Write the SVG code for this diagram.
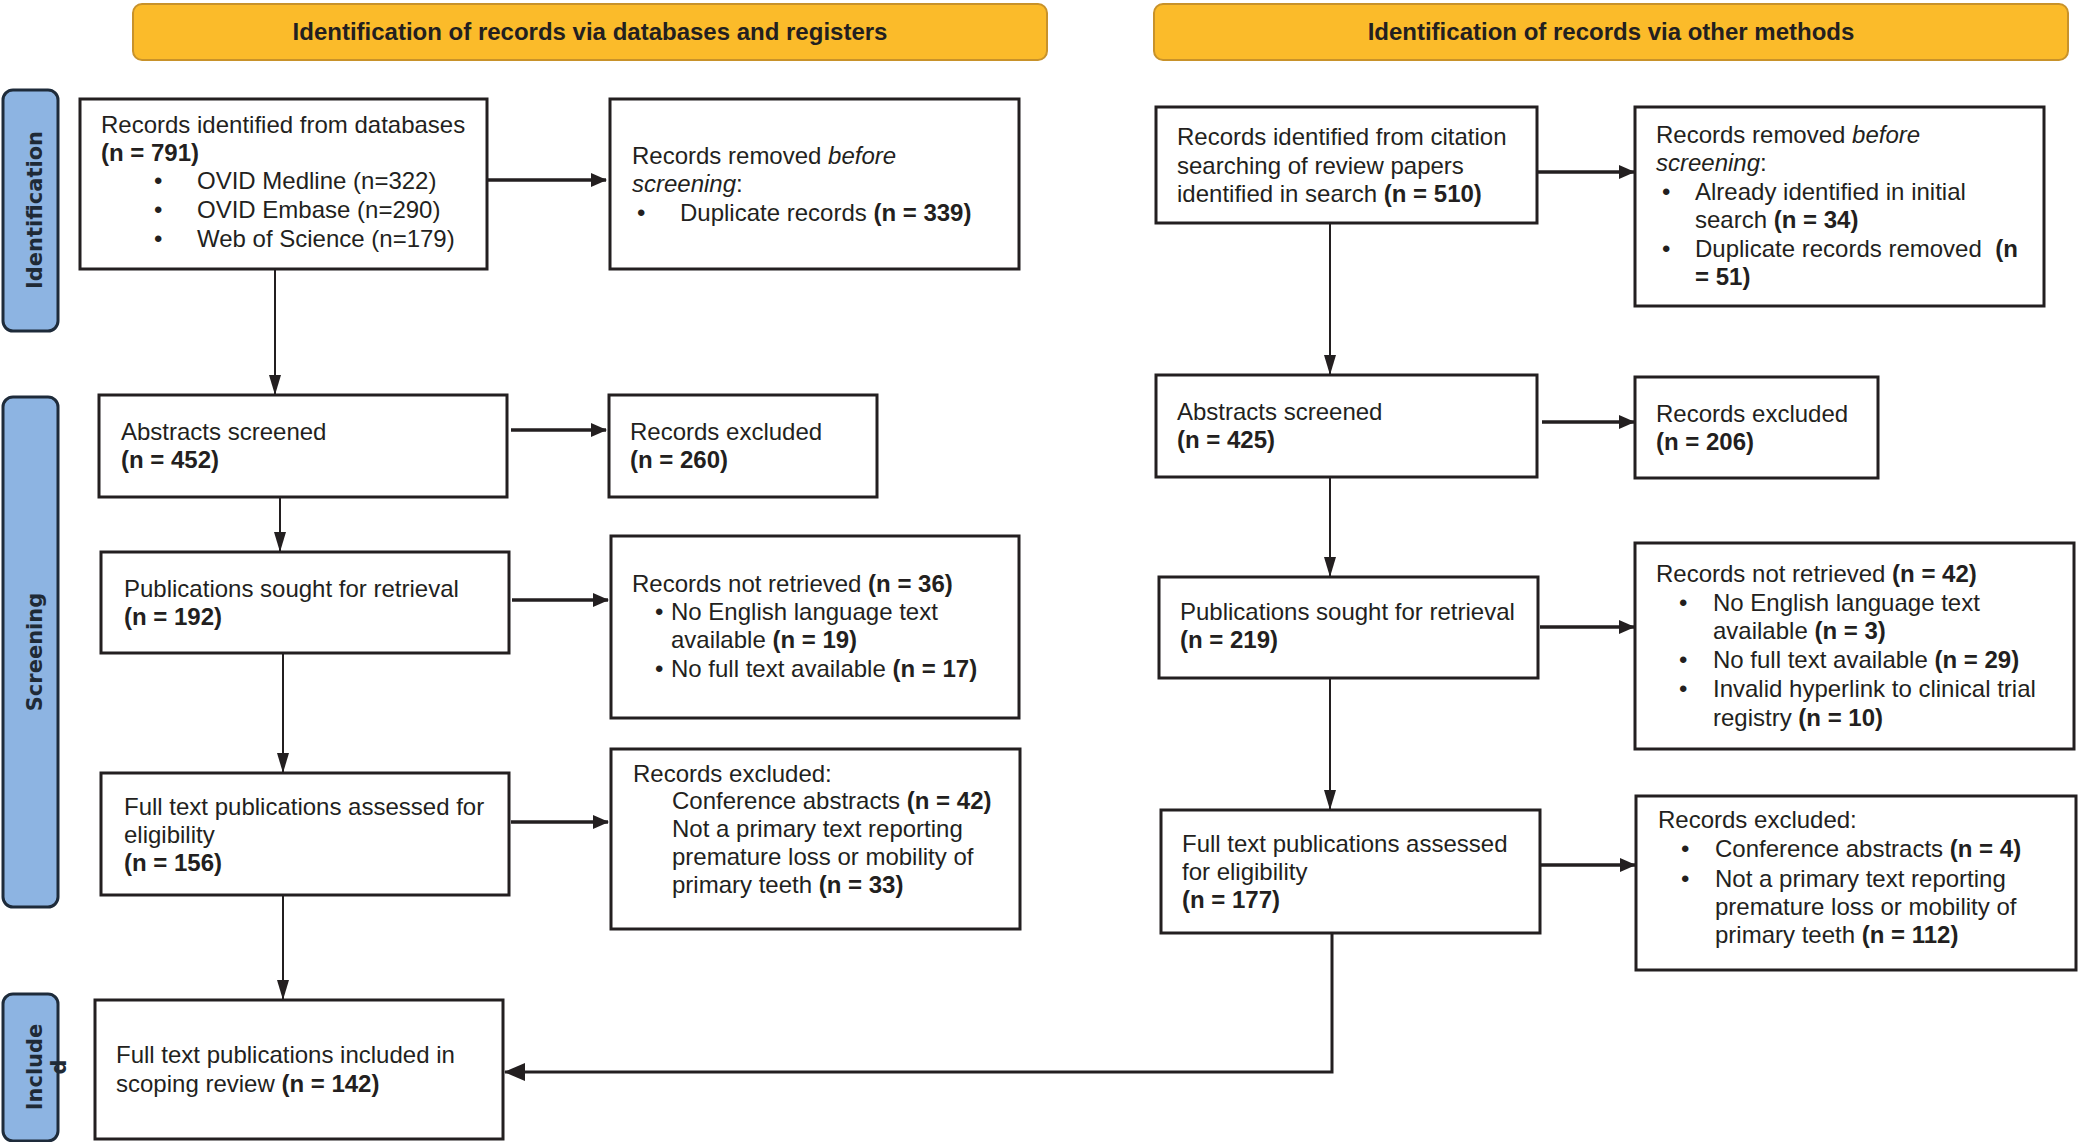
<svg xmlns="http://www.w3.org/2000/svg" width="2079" height="1142" viewBox="0 0 2079 1142">
<defs>
<style>
.hdr{fill:#FBBB2A;stroke:#C8922A;stroke-width:2}
.hdrt{font-family:"Liberation Sans",Arial,sans-serif;font-size:24px;font-weight:bold;fill:#231F20;text-anchor:middle}
.side{fill:#8DB4E2;stroke:#1E2B3A;stroke-width:3}
.sidet{font-family:"DejaVu Sans",Verdana,sans-serif;font-size:21px;font-weight:bold;fill:#1F2A36;text-anchor:middle}
.box{fill:#fff;stroke:#231F20;stroke-width:3}
.t{font-family:"Liberation Sans",Arial,sans-serif;font-size:24px;fill:#231F20}
.b{font-weight:bold}
.i{font-style:italic}
.ch{fill:none;stroke:#231F20;stroke-width:3.5}
.cv{fill:none;stroke:#231F20;stroke-width:2}
</style>
<marker id="ah" markerUnits="userSpaceOnUse" markerWidth="16" markerHeight="14" refX="15" refY="7" orient="auto"><path d="M0,0 L16,7 L0,14 z" fill="#231F20"/></marker>
<marker id="av" markerUnits="userSpaceOnUse" markerWidth="20" markerHeight="12" refX="19" refY="6" orient="auto"><path d="M0,0 L20,6 L0,12 z" fill="#231F20"/></marker>
<marker id="ah2" markerUnits="userSpaceOnUse" markerWidth="21" markerHeight="18" refX="20" refY="9" orient="auto"><path d="M0,0 L21,9 L0,18 z" fill="#231F20"/></marker>
</defs>
<rect width="2079" height="1142" fill="#fff"/>

<g id="header-databases"><rect class="hdr" x="133" y="4" width="914" height="56" rx="9"/><text class="hdrt" x="590" y="40">Identification of records via databases and registers</text></g>
<g id="header-other"><rect class="hdr" x="1154" y="4" width="914" height="56" rx="9"/><text class="hdrt" x="1611" y="40">Identification of records via other methods</text></g>

<g id="side-identification"><rect class="side" x="3" y="90" width="55" height="241" rx="10"/><text class="sidet" transform="translate(42,210) rotate(-90)">Identification</text></g>
<g id="side-screening"><rect class="side" x="3" y="397" width="55" height="510" rx="10"/><text class="sidet" transform="translate(42,652) rotate(-90)">Screening</text></g>
<g id="side-included"><rect class="side" x="3" y="994" width="55" height="147" rx="10"/><text class="sidet" transform="translate(42,1067) rotate(-90)">Include</text><text class="sidet" transform="translate(66,1067) rotate(-90)">d</text></g>

<g id="connectors">
<line class="ch" x1="487" y1="180" x2="606" y2="180" marker-end="url(#ah)"/>
<line class="cv" x1="275" y1="269" x2="275" y2="394" marker-end="url(#av)"/>
<line class="ch" x1="511" y1="430" x2="606" y2="430" marker-end="url(#ah)"/>
<line class="cv" x1="280" y1="497" x2="280" y2="551" marker-end="url(#av)"/>
<line class="ch" x1="512" y1="600" x2="608" y2="600" marker-end="url(#ah)"/>
<line class="cv" x1="283" y1="653" x2="283" y2="772" marker-end="url(#av)"/>
<line class="ch" x1="511" y1="822" x2="608" y2="822" marker-end="url(#ah)"/>
<line class="cv" x1="283" y1="895" x2="283" y2="999" marker-end="url(#av)"/>
<line class="ch" x1="1537" y1="172" x2="1634" y2="172" marker-end="url(#ah)"/>
<line class="cv" x1="1330" y1="223" x2="1330" y2="374" marker-end="url(#av)"/>
<line class="ch" x1="1542" y1="422" x2="1634" y2="422" marker-end="url(#ah)"/>
<line class="cv" x1="1330" y1="477" x2="1330" y2="576" marker-end="url(#av)"/>
<line class="ch" x1="1540" y1="627" x2="1634" y2="627" marker-end="url(#ah)"/>
<line class="cv" x1="1330" y1="678" x2="1330" y2="809" marker-end="url(#av)"/>
<line class="ch" x1="1540" y1="865" x2="1635" y2="865" marker-end="url(#ah)"/>
<polyline class="cv" points="1332,930 1332,1072 505,1072" style="stroke-width:3" marker-end="url(#ah2)"/>
</g>

<g id="db-records-identified"><rect class="box" x="80" y="99" width="407" height="170"/>
<text class="t" x="101" y="133">Records identified from databases</text>
<text class="t b" x="101" y="161">(n = 791)</text>
<text class="t" x="154" y="189">•</text><text class="t" x="197" y="189">OVID Medline (n=322)</text>
<text class="t" x="154" y="218">•</text><text class="t" x="197" y="218">OVID Embase (n=290)</text>
<text class="t" x="154" y="247">•</text><text class="t" x="197" y="247">Web of Science (n=179)</text>
</g>
<g id="db-records-removed"><rect class="box" x="610" y="99" width="409" height="170"/>
<text class="t" x="632" y="164">Records removed <tspan class="i">before</tspan></text>
<text class="t" x="632" y="192"><tspan class="i">screening</tspan>:</text>
<text class="t" x="637" y="221">•</text><text class="t" x="680" y="221">Duplicate records <tspan class="b">(n = 339)</tspan></text>
</g>
<g id="db-abstracts-screened"><rect class="box" x="99" y="395" width="408" height="102"/>
<text class="t" x="121" y="440">Abstracts screened</text>
<text class="t b" x="121" y="468">(n = 452)</text>
</g>
<g id="db-records-excluded"><rect class="box" x="609" y="395" width="268" height="102"/>
<text class="t" x="630" y="440">Records excluded</text>
<text class="t b" x="630" y="468">(n = 260)</text>
</g>
<g id="db-sought-retrieval"><rect class="box" x="101" y="552" width="408" height="101"/>
<text class="t" x="124" y="597">Publications sought for retrieval</text>
<text class="t b" x="124" y="625">(n = 192)</text>
</g>
<g id="db-not-retrieved"><rect class="box" x="611" y="536" width="408" height="182"/>
<text class="t" x="632" y="592">Records not retrieved <tspan class="b">(n = 36)</tspan></text>
<text class="t" x="655" y="620">•</text><text class="t" x="671" y="620">No English language text</text>
<text class="t" x="671" y="648">available <tspan class="b">(n = 19)</tspan></text>
<text class="t" x="655" y="677">•</text><text class="t" x="671" y="677">No full text available <tspan class="b">(n = 17)</tspan></text>
</g>
<g id="db-fulltext-assessed"><rect class="box" x="101" y="773" width="408" height="122"/>
<text class="t" x="124" y="815">Full text publications assessed for</text>
<text class="t" x="124" y="843">eligibility</text>
<text class="t b" x="124" y="871">(n = 156)</text>
</g>
<g id="db-fulltext-excluded"><rect class="box" x="611" y="749" width="409" height="180"/>
<text class="t" x="633" y="782">Records excluded:</text>
<text class="t" x="672" y="809">Conference abstracts <tspan class="b">(n = 42)</tspan></text>
<text class="t" x="672" y="837">Not a primary text reporting</text>
<text class="t" x="672" y="865">premature loss or mobility of</text>
<text class="t" x="672" y="893">primary teeth <tspan class="b">(n = 33)</tspan></text>
</g>
<g id="included"><rect class="box" x="95" y="1000" width="408" height="139"/>
<text class="t" x="116" y="1063">Full text publications included in</text>
<text class="t" x="116" y="1092">scoping review <tspan class="b">(n = 142)</tspan></text>
</g>

<g id="om-records-identified"><rect class="box" x="1156" y="107" width="381" height="116"/>
<text class="t" x="1177" y="145">Records identified from citation</text>
<text class="t" x="1177" y="174">searching of review papers</text>
<text class="t" x="1177" y="202">identified in search <tspan class="b">(n = 510)</tspan></text>
</g>
<g id="om-records-removed"><rect class="box" x="1635" y="107" width="409" height="199"/>
<text class="t" x="1656" y="143">Records removed <tspan class="i">before</tspan></text>
<text class="t" x="1656" y="171"><tspan class="i">screening</tspan>:</text>
<text class="t" x="1662" y="200">•</text><text class="t" x="1695" y="200">Already identified in initial</text>
<text class="t" x="1695" y="228">search <tspan class="b">(n = 34)</tspan></text>
<text class="t" x="1662" y="257">•</text><text class="t" x="1695" y="257" xml:space="preserve">Duplicate records removed  <tspan class="b">(n</tspan></text>
<text class="t b" x="1695" y="285">= 51)</text>
</g>
<g id="om-abstracts-screened"><rect class="box" x="1156" y="375" width="381" height="102"/>
<text class="t" x="1177" y="420">Abstracts screened</text>
<text class="t b" x="1177" y="448">(n = 425)</text>
</g>
<g id="om-records-excluded"><rect class="box" x="1635" y="377" width="243" height="101"/>
<text class="t" x="1656" y="422">Records excluded</text>
<text class="t b" x="1656" y="450">(n = 206)</text>
</g>
<g id="om-sought-retrieval"><rect class="box" x="1159" y="577" width="379" height="101"/>
<text class="t" x="1180" y="620">Publications sought for retrieval</text>
<text class="t b" x="1180" y="648">(n = 219)</text>
</g>
<g id="om-not-retrieved"><rect class="box" x="1635" y="543" width="439" height="206"/>
<text class="t" x="1656" y="582">Records not retrieved <tspan class="b">(n = 42)</tspan></text>
<text class="t" x="1679" y="611">•</text><text class="t" x="1713" y="611">No English language text</text>
<text class="t" x="1713" y="639">available <tspan class="b">(n = 3)</tspan></text>
<text class="t" x="1679" y="668">•</text><text class="t" x="1713" y="668">No full text available <tspan class="b">(n = 29)</tspan></text>
<text class="t" x="1679" y="697">•</text><text class="t" x="1713" y="697">Invalid hyperlink to clinical trial</text>
<text class="t" x="1713" y="726">registry <tspan class="b">(n = 10)</tspan></text>
</g>
<g id="om-fulltext-assessed"><rect class="box" x="1161" y="810" width="379" height="123"/>
<text class="t" x="1182" y="852">Full text publications assessed</text>
<text class="t" x="1182" y="880">for eligibility</text>
<text class="t b" x="1182" y="908">(n = 177)</text>
</g>
<g id="om-fulltext-excluded"><rect class="box" x="1636" y="796" width="440" height="174"/>
<text class="t" x="1658" y="828">Records excluded:</text>
<text class="t" x="1681" y="857">•</text><text class="t" x="1715" y="857">Conference abstracts <tspan class="b">(n = 4)</tspan></text>
<text class="t" x="1681" y="887">•</text><text class="t" x="1715" y="887">Not a primary text reporting</text>
<text class="t" x="1715" y="915">premature loss or mobility of</text>
<text class="t" x="1715" y="943">primary teeth <tspan class="b">(n = 112)</tspan></text>
</g>
</svg>
